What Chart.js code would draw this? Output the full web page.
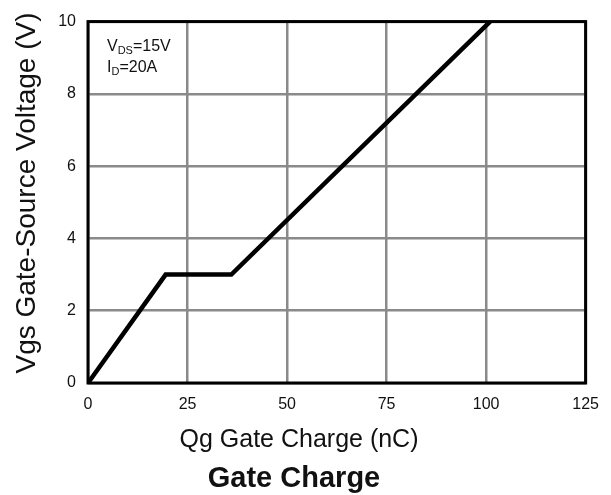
<!DOCTYPE html>
<html>
<head>
<meta charset="utf-8">
<script src="https://cdn.jsdelivr.net/npm/chart.js@4/dist/chart.umd.min.js"></script>
<style>
html,body{margin:0;padding:0;background:#fff;}
#wrap{width:611px;height:495px;position:relative;}
</style>
</head>
<body>
<div id="wrap"><canvas id="c" width="611" height="495"></canvas></div>
<script>
const qgCharge = [0, 19.5, 36, 101];
const vgsVoltage = [0, 3, 3, 10];
const xTicks = [0, 25, 50, 75, 100, 125];
const yTicks = [0, 2, 4, 6, 8, 10];
const xTitle = 'Qg Gate Charge (nC)';
const yTitle = 'Vgs Gate-Source Voltage (V)';
const chartTitle = 'Gate Charge';
const condLines = [['V', 'DS', '=15V'], ['I', 'D', '=20A']];

const FONT = '"Liberation Sans", Arial, sans-serif';

const deco = {
  id: 'deco',
  beforeDatasetsDraw(chart) {
    const {ctx, chartArea: a} = chart;
    ctx.save();
    ctx.strokeStyle = '#000';
    ctx.lineWidth = 3;
    ctx.strokeRect(a.left, a.top, a.right - a.left, a.bottom - a.top);
    ctx.restore();
  },
  afterDraw(chart) {
    const {ctx, chartArea: a} = chart;
    ctx.save();
    ctx.fillStyle = '#111';
    // y title
    ctx.save();
    ctx.translate(35, 193);
    ctx.rotate(-Math.PI / 2);
    ctx.textAlign = 'center';
    ctx.textBaseline = 'alphabetic';
    ctx.font = '28px ' + FONT;
    ctx.fillText(yTitle, 0, 0);
    ctx.restore();
    // x title
    ctx.textAlign = 'center';
    ctx.textBaseline = 'alphabetic';
    ctx.font = '25px ' + FONT;
    ctx.fillText(xTitle, 299, 447);
    ctx.font = 'bold 29px ' + FONT;
    ctx.fillText(chartTitle, 294, 487);
    // conditions
    ctx.textAlign = 'left';
    const x0 = a.left + 19;
    const bases = [a.top + 29, a.top + 50];
    condLines.forEach((ln, i) => {
      let x = x0;
      const y = bases[i];
      ctx.font = '16px ' + FONT;
      ctx.fillText(ln[0], x, y);
      x += ctx.measureText(ln[0]).width;
      ctx.font = '11px ' + FONT;
      ctx.fillText(ln[1], x, y + 3);
      x += ctx.measureText(ln[1]).width;
      ctx.font = '16px ' + FONT;
      ctx.fillText(ln[2], x, y);
    });
    ctx.restore();
  }
};

new Chart(document.getElementById('c'), {
  type: 'scatter',
  data: {
    datasets: [{
      data: qgCharge.map((q, i) => ({x: q, y: vgsVoltage[i]})),
      showLine: true,
      borderColor: '#000',
      borderWidth: 4.5,
      pointRadius: 0,
      tension: 0,
      fill: false
    }]
  },
  options: {
    responsive: false,
    animation: false,
    devicePixelRatio: 1,
    layout: {padding: {left: 0, right: 24, top: 16, bottom: 0}},
    plugins: {legend: {display: false}, tooltip: {enabled: false}, title: {display: false}},
    scales: {
      x: {
        type: 'linear', min: 0, max: 125,
        afterBuildTicks(s) { s.ticks = xTicks.map(v => ({value: v})); },
        afterFit(s) { s.height = 112; },
        grid: {color: '#8a8a8a', lineWidth: 2.5, drawTicks: false},
        border: {display: false},
        ticks: {padding: 12, color: '#111', font: {family: FONT, size: 16}, maxRotation: 0}
      },
      y: {
        type: 'linear', min: 0, max: 10,
        afterBuildTicks(s) { s.ticks = yTicks.map(v => ({value: v})); },
        afterFit(s) { s.width = 88; },
        grid: {color: '#8a8a8a', lineWidth: 2.5, drawTicks: false},
        border: {display: false},
        ticks: {padding: 12, color: '#111', font: {family: FONT, size: 16}}
      }
    }
  },
  plugins: [deco]
});
</script>
</body>
</html>
